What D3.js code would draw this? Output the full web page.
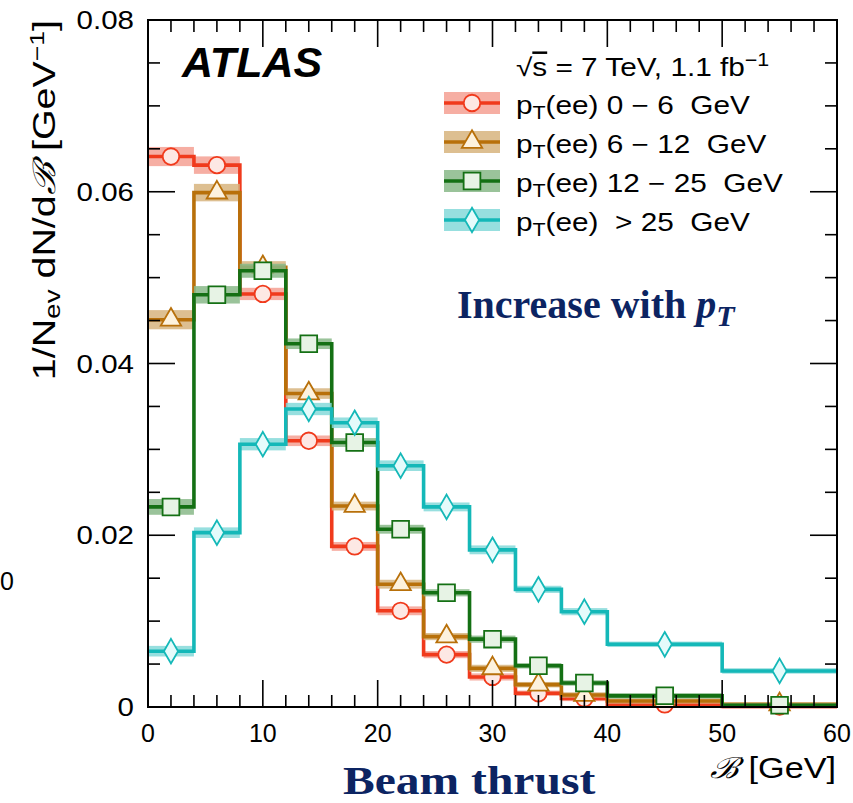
<!DOCTYPE html>
<html>
<head>
<meta charset="utf-8">
<script src="https://cdn.jsdelivr.net/npm/d3@7"></script>
<style>
  body { margin: 0; background: #fff; }
  svg text { white-space: pre; }
</style>
</head>
<body>
<div id="chart"></div>
<script>
// bin edges of beam thrust [GeV]
var binEdges = [0, 4, 8, 12, 16, 20, 24, 28, 32, 36, 40, 50, 60];

var seriesLabels = ["0 \u2212 6  GeV", "6 \u2212 12  GeV", "12 \u2212 25  GeV", " > 25  GeV"];

// 1/Nev dN/dB per bin
var valsPt0to6   = [0.0641, 0.0631, 0.0481, 0.0310, 0.0187, 0.0112, 0.0061, 0.0035, 0.0016, 0.0010, 0.0003, 0.00005];
var valsPt6to12  = [0.0451, 0.0599, 0.0512, 0.0365, 0.0234, 0.0143, 0.0082, 0.0045, 0.0026, 0.0014, 0.0007, 0.0003];
var valsPt12to25 = [0.0233, 0.0480, 0.0508, 0.0423, 0.0308, 0.0207, 0.0133, 0.0079, 0.0048, 0.0028, 0.0013, 0.0002];
var valsPtGt25   = [0.0065, 0.0203, 0.0306, 0.0347, 0.0331, 0.0281, 0.0233, 0.0183, 0.0137, 0.0111, 0.0073, 0.0042];

// uncertainty band half-widths
var errPt0to6   = [0.0010, 0.0009, 0.0006, 0.0005, 0.0004, 0.0004, 0.0003, 0.0003, 0.0002, 0.0002, 0.0002, 0.0001];
var errPt6to12  = [0.0010, 0.0009, 0.0006, 0.0005, 0.0004, 0.0004, 0.0003, 0.0003, 0.0002, 0.0002, 0.0002, 0.0001];
var errPt12to25 = [0.0008, 0.0009, 0.0007, 0.0005, 0.0004, 0.0004, 0.0003, 0.0003, 0.0002, 0.0002, 0.0002, 0.0001];
var errPtGt25   = [0.0005, 0.0005, 0.0006, 0.0006, 0.0005, 0.0005, 0.0004, 0.0004, 0.0003, 0.0003, 0.0002, 0.0002];

var yTickVals = [0, 0.02, 0.04, 0.06, 0.08];
var yTickLabels = ["0", "0.02", "0.04", "0.06", "0.08"];
var xTickVals = [0, 10, 20, 30, 40, 50, 60];

var totalWidth = 853,
    totalHeight = 803,
    mLeft = 148,
    mTop = 20,
    mRight = 16,
    mBottom = 96;

var width = totalWidth - mLeft - mRight,
    height = totalHeight - mTop - mBottom;

var sansFont = "'Liberation Sans', Arial, Helvetica, sans-serif";
var serifFont = "'Liberation Serif', 'Times New Roman', serif";
var navy = "#0c2462";
var stretch = 1.19; // the original's text is a little wider than the plain font

var series = [
    {vals: valsPt0to6,   errs: errPt0to6,   line: "#f03a1c", band: "#f5a093", fill: "#fde8e4", sym: d3.symbolCircle,   size: 215},
    {vals: valsPt6to12,  errs: errPt6to12,  line: "#b8700a", band: "#d7b47e", fill: "#fdf2de", sym: d3.symbolTriangle, size: 180},
    {vals: valsPt12to25, errs: errPt12to25, line: "#147014", band: "#88b888", fill: "#e7f3e5", sym: d3.symbolSquare,   size: 280},
    {vals: valsPtGt25,   errs: errPtGt25,   line: "#14b8b8", band: "#85d9d9", fill: "#e5fbfb", sym: d3.symbolDiamond,  size: 175}
];
series.forEach(function(s, i) { s.label = seriesLabels[i]; });

var xScale = d3.scaleLinear().domain([0, 60]).range([0, width]);
var yScale = d3.scaleLinear().domain([0, 0.08]).range([height, 0]);

var svg = d3.select("#chart").append("svg")
    .attr("width", totalWidth)
    .attr("height", totalHeight);

var g = svg.append("g").attr("transform", "translate(" + mLeft + "," + mTop + ")");

function placed(x, y, sx) {
    return "translate(" + x + "," + y + ") scale(" + (sx || stretch) + ",1)";
}

// histograms
var bins = d3.range(binEdges.length - 1).map(function(i) {
    return {lo: binEdges[i], hi: binEdges[i + 1], mid: (binEdges[i] + binEdges[i + 1]) / 2};
});

var stepLine = d3.line()
    .x(function(d) { return xScale(d[0]); })
    .y(function(d) { return yScale(d[1]); })
    .curve(d3.curveStepAfter);

var plot = g.append("g");

series.forEach(function(s) {
    var sg = plot.append("g");
    sg.selectAll("rect.band").data(bins).enter().append("rect")
        .attr("class", "band")
        .attr("x", function(d) { return xScale(d.lo); })
        .attr("width", function(d) { return xScale(d.hi) - xScale(d.lo); })
        .attr("y", function(d, i) { return yScale(s.vals[i] + s.errs[i]) - 1; })
        .attr("height", function(d, i) { return yScale(s.vals[i] - s.errs[i]) - yScale(s.vals[i] + s.errs[i]) + 2; })
        .attr("fill", s.band)
        .attr("opacity", 0.85);

    var pts = bins.map(function(d, i) { return [d.lo, s.vals[i]]; });
    pts.push([60, s.vals[s.vals.length - 1]]);
    sg.append("path")
        .attr("d", stepLine(pts))
        .attr("fill", "none")
        .attr("stroke", s.line)
        .attr("stroke-width", 3.6);

    sg.selectAll("path.mk").data(bins).enter().append("path")
        .attr("class", "mk")
        .attr("d", d3.symbol().type(s.sym).size(s.size))
        .attr("transform", function(d, i) { return "translate(" + xScale(d.mid) + "," + yScale(s.vals[i]) + ")"; })
        .attr("fill", s.fill)
        .attr("stroke", s.line)
        .attr("stroke-width", 1.8);
});

// frame and ticks
var axisColor = "#000";
g.append("rect")
    .attr("x", 0).attr("y", 0)
    .attr("width", width).attr("height", height)
    .attr("fill", "none").attr("stroke", axisColor).attr("stroke-width", 2);

var xMinor = d3.range(0, 61, 2);
var yMinor = d3.range(0, 0.0801, 0.005);

function isMajorX(v) { return Math.abs(v % 10) < 1e-6; }
function isMajorY(v) { return Math.abs(Math.round(v / 0.02) * 0.02 - v) < 1e-6; }

var tickG = g.append("g").attr("stroke", axisColor).attr("stroke-width", 1.6);
xMinor.forEach(function(v) {
    var len = isMajorX(v) ? 27 : 12;
    var x = xScale(v);
    tickG.append("line").attr("x1", x).attr("x2", x).attr("y1", height).attr("y2", height - len);
    tickG.append("line").attr("x1", x).attr("x2", x).attr("y1", 0).attr("y2", len);
});
yMinor.forEach(function(v) {
    var len = isMajorY(v) ? 27 : 12;
    var y = yScale(v);
    tickG.append("line").attr("x1", 0).attr("x2", len).attr("y1", y).attr("y2", y);
    tickG.append("line").attr("x1", width).attr("x2", width - len).attr("y1", y).attr("y2", y);
});

// tick labels
g.selectAll("text.xt").data(xTickVals).enter().append("text")
    .attr("x", function(d) { return xScale(d); })
    .attr("y", height + 35)
    .attr("text-anchor", "middle")
    .style("font-family", sansFont).style("font-size", "25px")
    .text(function(d) { return d; });

g.selectAll("text.yt").data(yTickVals).enter().append("text")
    .attr("transform", function(d) { return placed(-14, yScale(d), 1.18); })
    .attr("dy", "0.36em")
    .attr("text-anchor", "end")
    .style("font-family", sansFont).style("font-size", "25px")
    .text(function(d, i) { return yTickLabels[i]; });

// axis titles
var xTitle = svg.append("text")
    .attr("transform", placed(836, 778, 1.18))
    .attr("text-anchor", "end")
    .style("font-family", sansFont).style("font-size", "29px");
xTitle.append("tspan").style("font-style", "italic").style("font-family", "'DejaVu Serif', serif").text("\u212C");
xTitle.append("tspan").text(" [GeV]");

var yTitle = svg.append("text")
    .attr("transform", "translate(55,20) rotate(-90) scale(1.27,1)")
    .attr("text-anchor", "end")
    .style("font-family", sansFont).style("font-size", "31px");
yTitle.append("tspan").text("1/N");
yTitle.append("tspan").attr("baseline-shift", "-25%").style("font-size", "22px").text("ev");
yTitle.append("tspan").text(" dN/d");
yTitle.append("tspan").style("font-style", "italic").style("font-family", "'DejaVu Serif', serif").text("\u212C");
yTitle.append("tspan").text(" [GeV");
yTitle.append("tspan").attr("baseline-shift", "super").style("font-size", "21px").text("\u22121");
yTitle.append("tspan").text("]");

// stray clipped label at left edge
svg.append("text")
    .attr("x", 0).attr("y", 590)
    .style("font-family", sansFont).style("font-size", "25px")
    .text("0");

// ATLAS label
svg.append("text")
    .attr("x", 182).attr("y", 77)
    .style("font-family", sansFont).style("font-size", "43px")
    .style("font-weight", "bold").style("font-style", "italic")
    .text("ATLAS");

// energy / lumi line
var lumi = svg.append("text")
    .attr("transform", placed(516, 76))
    .style("font-family", sansFont).style("font-size", "25px");
lumi.append("tspan").text("\u221A");
lumi.append("tspan").style("text-decoration", "overline").text("s");
lumi.append("tspan").text(" = 7 TeV, 1.1 fb");
lumi.append("tspan").attr("baseline-shift", "super").style("font-size", "18px").text("\u22121");

// legend
var legRows = [103, 142, 181, 220];
var legend = svg.append("g");
series.forEach(function(s, i) {
    var row = legend.append("g").attr("transform", "translate(0," + legRows[i] + ")");
    row.append("rect").attr("x", 444).attr("y", -11).attr("width", 56).attr("height", 22)
        .attr("fill", s.band).attr("opacity", 0.85);
    row.append("line").attr("x1", 444).attr("x2", 500).attr("y1", 0).attr("y2", 0)
        .attr("stroke", s.line).attr("stroke-width", 3.6);
    row.append("path").attr("d", d3.symbol().type(s.sym).size(s.size))
        .attr("transform", "translate(472,0)")
        .attr("fill", s.fill).attr("stroke", s.line).attr("stroke-width", 1.8);
    var t = row.append("text").attr("transform", placed(516, 11))
        .style("font-family", sansFont).style("font-size", "25px");
    t.append("tspan").text("p");
    t.append("tspan").attr("baseline-shift", "-25%").style("font-size", "18px").text("T");
    t.append("tspan").text("(ee) " + s.label);
});

// annotations
var inc = svg.append("text")
    .attr("x", 457).attr("y", 318)
    .style("font-family", serifFont).style("font-size", "40px")
    .style("font-weight", "bold").attr("fill", navy);
inc.append("tspan").text("Increase with ");
inc.append("tspan").style("font-style", "italic").text("p");
inc.append("tspan").style("font-style", "italic").attr("baseline-shift", "-25%").style("font-size", "30px").text("T");

svg.append("text")
    .attr("transform", placed(343, 794, 1.16))
    .style("font-family", serifFont).style("font-size", "41px")
    .style("font-weight", "bold").attr("fill", navy)
    .text("Beam thrust");
</script>
</body>
</html>
